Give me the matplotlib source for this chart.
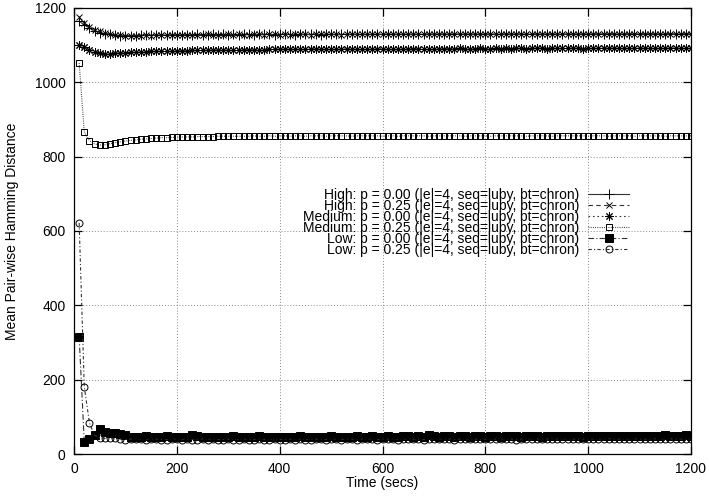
import matplotlib.pyplot as plt

plt.rcParams['font.family'] = ['Liberation Sans', 'DejaVu Sans']

# time in seconds, one sample every 10 s
time_secs = list(range(10, 1201, 10))

high_p00 = [1165, 1154, 1146, 1139, 1134, 1131, 1129, 1127, 1126, 1126,
            1126, 1126, 1127, 1127, 1127, 1127, 1128, 1127, 1128, 1128,
            1128, 1128, 1128, 1129, 1128, 1128, 1129, 1128, 1129, 1128,
            1129, 1128, 1129, 1129, 1128, 1129, 1129, 1129, 1128, 1129,
            1129, 1129, 1128, 1129, 1129, 1129, 1129, 1128, 1129, 1129,
            1129, 1129, 1129, 1130, 1129, 1129, 1129, 1129, 1130, 1129,
            1129, 1130, 1129, 1129, 1130, 1129, 1130, 1129, 1129, 1130,
            1130, 1129, 1130, 1130, 1129, 1130, 1130, 1129, 1130, 1130,
            1130, 1130, 1129, 1130, 1130, 1130, 1130, 1129, 1130, 1130,
            1130, 1130, 1130, 1130, 1129, 1130, 1130, 1130, 1130, 1130,
            1130, 1130, 1131, 1130, 1130, 1130, 1130, 1131, 1130, 1130,
            1130, 1131, 1130, 1130, 1130, 1131, 1130, 1130, 1131, 1130]

high_p25 = [1175, 1160, 1150, 1142, 1137, 1133, 1130, 1128, 1127, 1126,
            1126, 1126, 1126, 1127, 1126, 1127, 1127, 1127, 1127, 1128,
            1127, 1128, 1128, 1128, 1128, 1129, 1128, 1128, 1128, 1129,
            1128, 1129, 1128, 1128, 1129, 1129, 1128, 1129, 1129, 1128,
            1129, 1128, 1129, 1129, 1129, 1128, 1129, 1129, 1129, 1129,
            1129, 1128, 1129, 1129, 1129, 1130, 1129, 1129, 1129, 1129,
            1130, 1129, 1129, 1130, 1129, 1129, 1129, 1130, 1130, 1129,
            1129, 1130, 1129, 1130, 1130, 1129, 1129, 1130, 1130, 1129,
            1130, 1129, 1130, 1130, 1129, 1130, 1129, 1130, 1130, 1130,
            1129, 1130, 1130, 1129, 1130, 1130, 1130, 1129, 1130, 1130,
            1130, 1130, 1130, 1131, 1130, 1130, 1129, 1130, 1130, 1131,
            1130, 1130, 1130, 1130, 1131, 1130, 1130, 1131, 1130, 1130]

medium_p00 = [1100, 1094, 1088, 1082, 1078, 1076, 1077, 1078, 1079, 1080,
              1081, 1081, 1082, 1082, 1083, 1083, 1084, 1084, 1084, 1085,
              1085, 1085, 1086, 1086, 1086, 1086, 1087, 1087, 1087, 1087,
              1087, 1088, 1088, 1088, 1088, 1088, 1088, 1089, 1089, 1089,
              1089, 1089, 1089, 1089, 1089, 1090, 1090, 1090, 1090, 1090,
              1090, 1090, 1090, 1090, 1090, 1090, 1091, 1090, 1090, 1091,
              1091, 1091, 1090, 1091, 1091, 1091, 1091, 1091, 1091, 1091,
              1091, 1091, 1091, 1091, 1092, 1091, 1091, 1091, 1092, 1091,
              1091, 1092, 1091, 1092, 1091, 1092, 1092, 1091, 1092, 1092,
              1092, 1091, 1092, 1092, 1092, 1092, 1092, 1092, 1091, 1092,
              1092, 1092, 1092, 1092, 1092, 1093, 1092, 1092, 1092, 1092,
              1092, 1093, 1092, 1092, 1092, 1092, 1093, 1092, 1092, 1093]

medium_p25 = [1052, 866, 843, 834, 831, 832, 835, 838, 840, 842,
              844, 845, 847, 848, 849, 850, 851, 851, 852, 852,
              853, 853, 853, 854, 854, 854, 854, 855, 855, 855,
              855, 855, 855, 855, 856, 855, 855, 856, 855, 856,
              856, 855, 856, 856, 855, 856, 856, 856, 855, 856,
              856, 856, 856, 855, 856, 856, 856, 856, 856, 855,
              856, 856, 855, 856, 856, 856, 856, 856, 855, 856,
              856, 856, 856, 856, 856, 855, 856, 856, 856, 856,
              855, 856, 856, 856, 856, 856, 856, 855, 856, 856,
              856, 856, 855, 856, 856, 856, 856, 856, 856, 855,
              856, 856, 856, 855, 856, 856, 856, 856, 855, 856,
              856, 856, 856, 856, 855, 856, 856, 856, 856, 856]

low_p00 = [316, 32, 40, 52, 66, 58, 56, 57, 55, 50,
           47, 46, 47, 48, 47, 46, 47, 48, 47, 47,
           46, 47, 50, 48, 47, 46, 47, 47, 46, 47,
           48, 47, 47, 46, 47, 48, 47, 46, 47, 47,
           46, 47, 47, 48, 47, 46, 47, 47, 47, 48,
           47, 47, 46, 47, 48, 47, 47, 48, 47, 47,
           48, 47, 47, 48, 48, 47, 48, 47, 50, 48,
           47, 48, 48, 47, 48, 48, 47, 48, 48, 47,
           48, 48, 47, 48, 48, 48, 47, 48, 48, 48,
           47, 48, 48, 49, 48, 48, 48, 48, 47, 48,
           48, 48, 48, 48, 49, 48, 48, 48, 48, 48,
           48, 49, 48, 48, 50, 48, 49, 48, 50, 49]

low_p25 = [622, 181, 84, 50, 44, 42, 44, 42, 40, 39,
           40, 41, 40, 39, 40, 40, 39, 39, 40, 40,
           39, 40, 39, 39, 40, 39, 40, 39, 39, 40,
           39, 39, 40, 39, 39, 40, 39, 39, 40, 39,
           39, 40, 39, 40, 39, 39, 40, 40, 39, 40,
           40, 39, 40, 40, 39, 40, 40, 40, 39, 40,
           40, 40, 39, 40, 40, 40, 40, 39, 40, 40,
           40, 40, 40, 39, 40, 40, 40, 40, 40, 40,
           40, 40, 40, 40, 40, 39, 40, 40, 40, 40,
           40, 40, 41, 40, 40, 40, 40, 40, 40, 40,
           40, 40, 40, 41, 40, 40, 40, 40, 41, 40,
           40, 40, 41, 40, 40, 41, 40, 40, 40, 41]

labels = ['High: p = 0.00 (|e|=4, seq=luby, bt=chron)',
          'High: p = 0.25 (|e|=4, seq=luby, bt=chron)',
          'Medium: p = 0.00 (|e|=4, seq=luby, bt=chron)',
          'Medium: p = 0.25 (|e|=4, seq=luby, bt=chron)',
          'Low: p = 0.00 (|e|=4, seq=luby, bt=chron)',
          'Low: p = 0.25 (|e|=4, seq=luby, bt=chron)']

series = [high_p00, high_p25, medium_p00, medium_p25, low_p00, low_p25]

# gnuplot-like line types / point types
styles = [
    dict(ls='-', marker='+', ms=7, mfc='none'),
    dict(ls=(0, (4, 3)), marker='x', ms=5, mfc='none'),
    dict(ls=(0, (1.5, 2.5)), marker=(8, 2, 0), ms=6, mfc='none'),
    dict(ls=(0, (0.8, 1.2)), marker='s', ms=5, mfc='none'),
    dict(ls=(0, (5, 2, 1, 2)), marker='s', ms=5.5, mfc='black'),
    dict(ls=(0, (3, 2, 1, 2)), marker='o', ms=5, mfc='none'),
]

fig = plt.figure(figsize=(7.09, 4.97), dpi=100)
ax = fig.add_axes([74 / 709, 1 - 454 / 497, 617 / 709, 446 / 497])

for vals, lab, st in zip(series, labels, styles):
    ax.plot(time_secs, vals, color='#333333', lw=0.8, ls=st['ls'],
            marker=st['marker'], ms=st['ms'], mfc=st['mfc'], mec='black',
            mew=0.7, label=lab)

ax.set_xlim(0, 1200)
ax.set_ylim(0, 1200)
ax.set_xticks([0, 200, 400, 600, 800, 1000, 1200])
ax.set_yticks([0, 200, 400, 600, 800, 1000, 1200])
ax.grid(True, ls=(0, (1, 2)), color='#888888', lw=0.7)
ax.tick_params(direction='in', length=6, width=0.9, top=True, right=True,
               labelsize=10, pad=6)
for sp in ax.spines.values():
    sp.set_linewidth(0.9)

ax.set_xlabel('Time (secs)', fontsize=10, labelpad=0)
ax.set_ylabel('Mean Pair-wise Hamming Distance', fontsize=10, labelpad=11)

ax.legend(loc='upper right', bbox_to_anchor=(629 / 709, 1 - 188 / 497),
          bbox_transform=fig.transFigure, frameon=False, markerfirst=False,
          fontsize=10, labelspacing=-0.22, handlelength=2.95,
          handletextpad=0.65, borderpad=0, borderaxespad=0)

fig.savefig('out.png', dpi=100)
